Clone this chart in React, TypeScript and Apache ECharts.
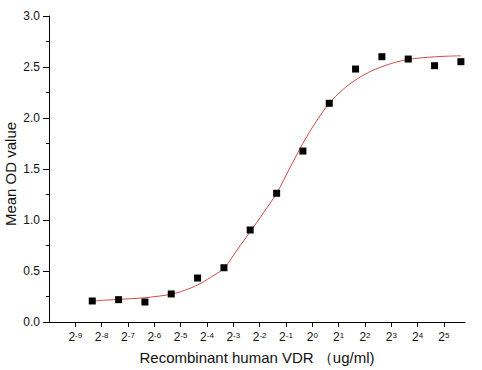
import React, { useEffect, useRef } from "react";
import * as echarts from "echarts";

// Concentrations (ug/ml), 2-fold serial dilution from 50
const concentrations = [
  0.00305, 0.0061, 0.0122, 0.0244, 0.0488, 0.0977, 0.195, 0.391, 0.781,
  1.5625, 3.125, 6.25, 12.5, 25, 50,
];
// Measured mean OD values
const meanOD = [
  0.206, 0.219, 0.196, 0.275, 0.431, 0.532, 0.902, 1.262, 1.676, 2.144,
  2.48, 2.601, 2.578, 2.513, 2.552,
];
// Fitted curve
const curveConc = [
  0.00305, 0.0061, 0.0122, 0.0244, 0.0345, 0.0488, 0.069, 0.0977, 0.138,
  0.195, 0.276, 0.391, 0.552, 0.781, 1.105, 1.5625, 2.21, 3.125, 4.42, 6.25,
  8.84, 12.5, 25, 50,
];
const curveOD = [
  0.206, 0.222, 0.238, 0.272, 0.31, 0.363, 0.438, 0.526, 0.706, 0.885, 1.07,
  1.262, 1.507, 1.752, 1.964, 2.144, 2.275, 2.373, 2.448, 2.503, 2.545, 2.575,
  2.6, 2.61,
];
const xTickExponents = [-9, -8, -7, -6, -5, -4, -3, -2, -1, 0, 1, 2, 3, 4, 5];
const yTicks = [0, 0.5, 1, 1.5, 2, 2.5, 3];

export default function App() {
  const ref = useRef<HTMLDivElement>(null);
  useEffect(() => {
    if (!ref.current) return;
    const chart = echarts.init(ref.current, undefined, { renderer: "svg" });
    const font = "Arial, 'Liberation Sans', sans-serif";
    const points = concentrations.map((c, i) => [Math.log2(c), meanOD[i]]);
    const curve = curveConc.map((c, i) => [Math.log2(c), curveOD[i]]);
    chart.setOption({
      animation: false,
      backgroundColor: "#ffffff",
      grid: {
        left: 49,
        right: 17,
        top: 16,
        bottom: 48,
        containLabel: false,
        outerBoundsMode: "none",
      },
      xAxis: {
        type: "value",
        min: -10,
        max: 5.8,
        name: "Recombinant human VDR （ug/ml)",
        nameLocation: "middle",
        nameGap: 28,
        nameMoveOverlap: false,
        nameTextStyle: { fontSize: 15, color: "#111", fontFamily: font },
        splitLine: { show: false },
        axisLine: { show: true, onZero: false, lineStyle: { color: "#000", width: 1 } },
        axisTick: {
          show: true,
          length: 5,
          customValues: xTickExponents,
          lineStyle: { color: "#000" },
        },
        axisLabel: {
          customValues: xTickExponents,
          margin: 9,
          formatter: (v: number) => `{b|2}{s|${v}}`,
          rich: {
            b: { fontSize: 12, color: "#111", fontFamily: font, verticalAlign: "bottom" },
            s: { fontSize: 8, color: "#111", fontFamily: font, verticalAlign: "top" },
          },
        },
      },
      yAxis: {
        type: "value",
        min: 0,
        max: 3,
        interval: 0.5,
        name: "Mean OD value",
        nameLocation: "middle",
        nameGap: 31,
        nameMoveOverlap: false,
        nameTextStyle: {
          fontSize: 15,
          lineHeight: 16,
          color: "#111",
          fontFamily: font,
          padding: [0, 10, 0, 0],
        },
        splitLine: { show: false },
        axisLine: { show: true, onZero: false, lineStyle: { color: "#000", width: 1 } },
        axisTick: { show: true, length: 6, customValues: yTicks, lineStyle: { color: "#000" } },
        minorTick: { show: true, splitNumber: 2, length: 3, lineStyle: { color: "#000" } },
        axisLabel: {
          margin: 9,
          fontSize: 12,
          color: "#111",
          fontFamily: font,
          formatter: (v: number) => v.toFixed(1),
        },
      },
      series: [
        {
          type: "line",
          data: curve,
          smooth: 0.3,
          showSymbol: false,
          symbol: "none",
          lineStyle: { color: "#cc4b4b", width: 1 },
          z: 2,
        },
        {
          type: "scatter",
          data: points,
          symbol: "rect",
          symbolSize: 7,
          itemStyle: { color: "#000", opacity: 1 },
          z: 3,
        },
      ],
    });
    return () => chart.dispose();
  }, []);
  return (
    <div
      ref={ref}
      style={{ position: "fixed", left: 0, top: 0, width: 482, height: 370 }}
    />
  );
}
